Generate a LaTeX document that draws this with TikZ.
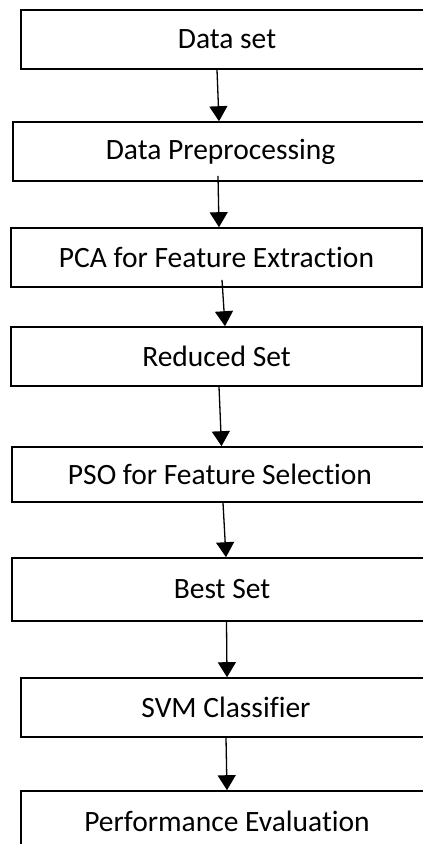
\documentclass[tikz,border=0pt]{standalone}
\usepackage{fontspec}
\setmainfont{Carlito}[Ligatures=NoCommon]
\usetikzlibrary{arrows.meta}
\begin{document}
\begin{tikzpicture}[x=1pt, y=-1pt, boxStyle/.style={rectangle, draw, line width=1.6pt, inner sep=0pt, font=\fontsize{29.5}{35}\selectfont}, arrStyle/.style={line width=1.3pt, -{Triangle[width=18pt, length=15pt]}}]
                    \useasboundingbox (0,0) rectangle (423,844);

                    \node[boxStyle, minimum width=412pt, minimum height=59pt] (dataSet)  at (227,   39.5) {Data set};
                    \node[boxStyle, minimum width=415pt, minimum height=59pt] (prep)     at (220.5, 151.5) {Data Preprocessing};
                    \node[boxStyle, minimum width=411pt, minimum height=59pt] (pca)      at (216.5, 257.5) {PCA for Feature Extraction};
                    \node[boxStyle, minimum width=411pt, minimum height=59pt] (reduced)  at (216.5, 356.5) {Reduced Set};
                    \node[boxStyle, minimum width=416pt, minimum height=55pt] (pso)      at (220,   474.5) {PSO for Feature Selection};
                    \node[boxStyle, minimum width=420pt, minimum height=63pt] (bestSet)  at (222,   589.5) {Best Set};
                    \node[boxStyle, minimum width=410pt, minimum height=59pt] (svm)      at (226,   707.5) {SVM Classifier};
                    \node[boxStyle, minimum width=412pt, minimum height=60pt] (perf)     at (227,   821) {Performance Evaluation};

                    \draw[arrStyle] ([xshift=-10pt]dataSet.south) -- ([xshift=-1.5pt]prep.north);
                    \draw[arrStyle] ([xshift=-2.5pt, yshift=6pt]prep.south) -- ([xshift=2.5pt]pca.north);
                    \draw[arrStyle] ([xshift=5.5pt, yshift=8pt]pca.south) -- ([xshift=8.5pt]reduced.north);
                    \draw[arrStyle] ([xshift=2.5pt]reduced.south) -- ([xshift=1.5pt]pso.north);
                    \draw[arrStyle] ([xshift=3pt]pso.south) -- ([xshift=4pt]bestSet.north);
                    \draw[arrStyle] ([xshift=4.5pt]bestSet.south) -- ([xshift=1pt]svm.north);
                    \draw[arrStyle] (svm.south) -- (perf.north);
                \end{tikzpicture}
\end{document}
